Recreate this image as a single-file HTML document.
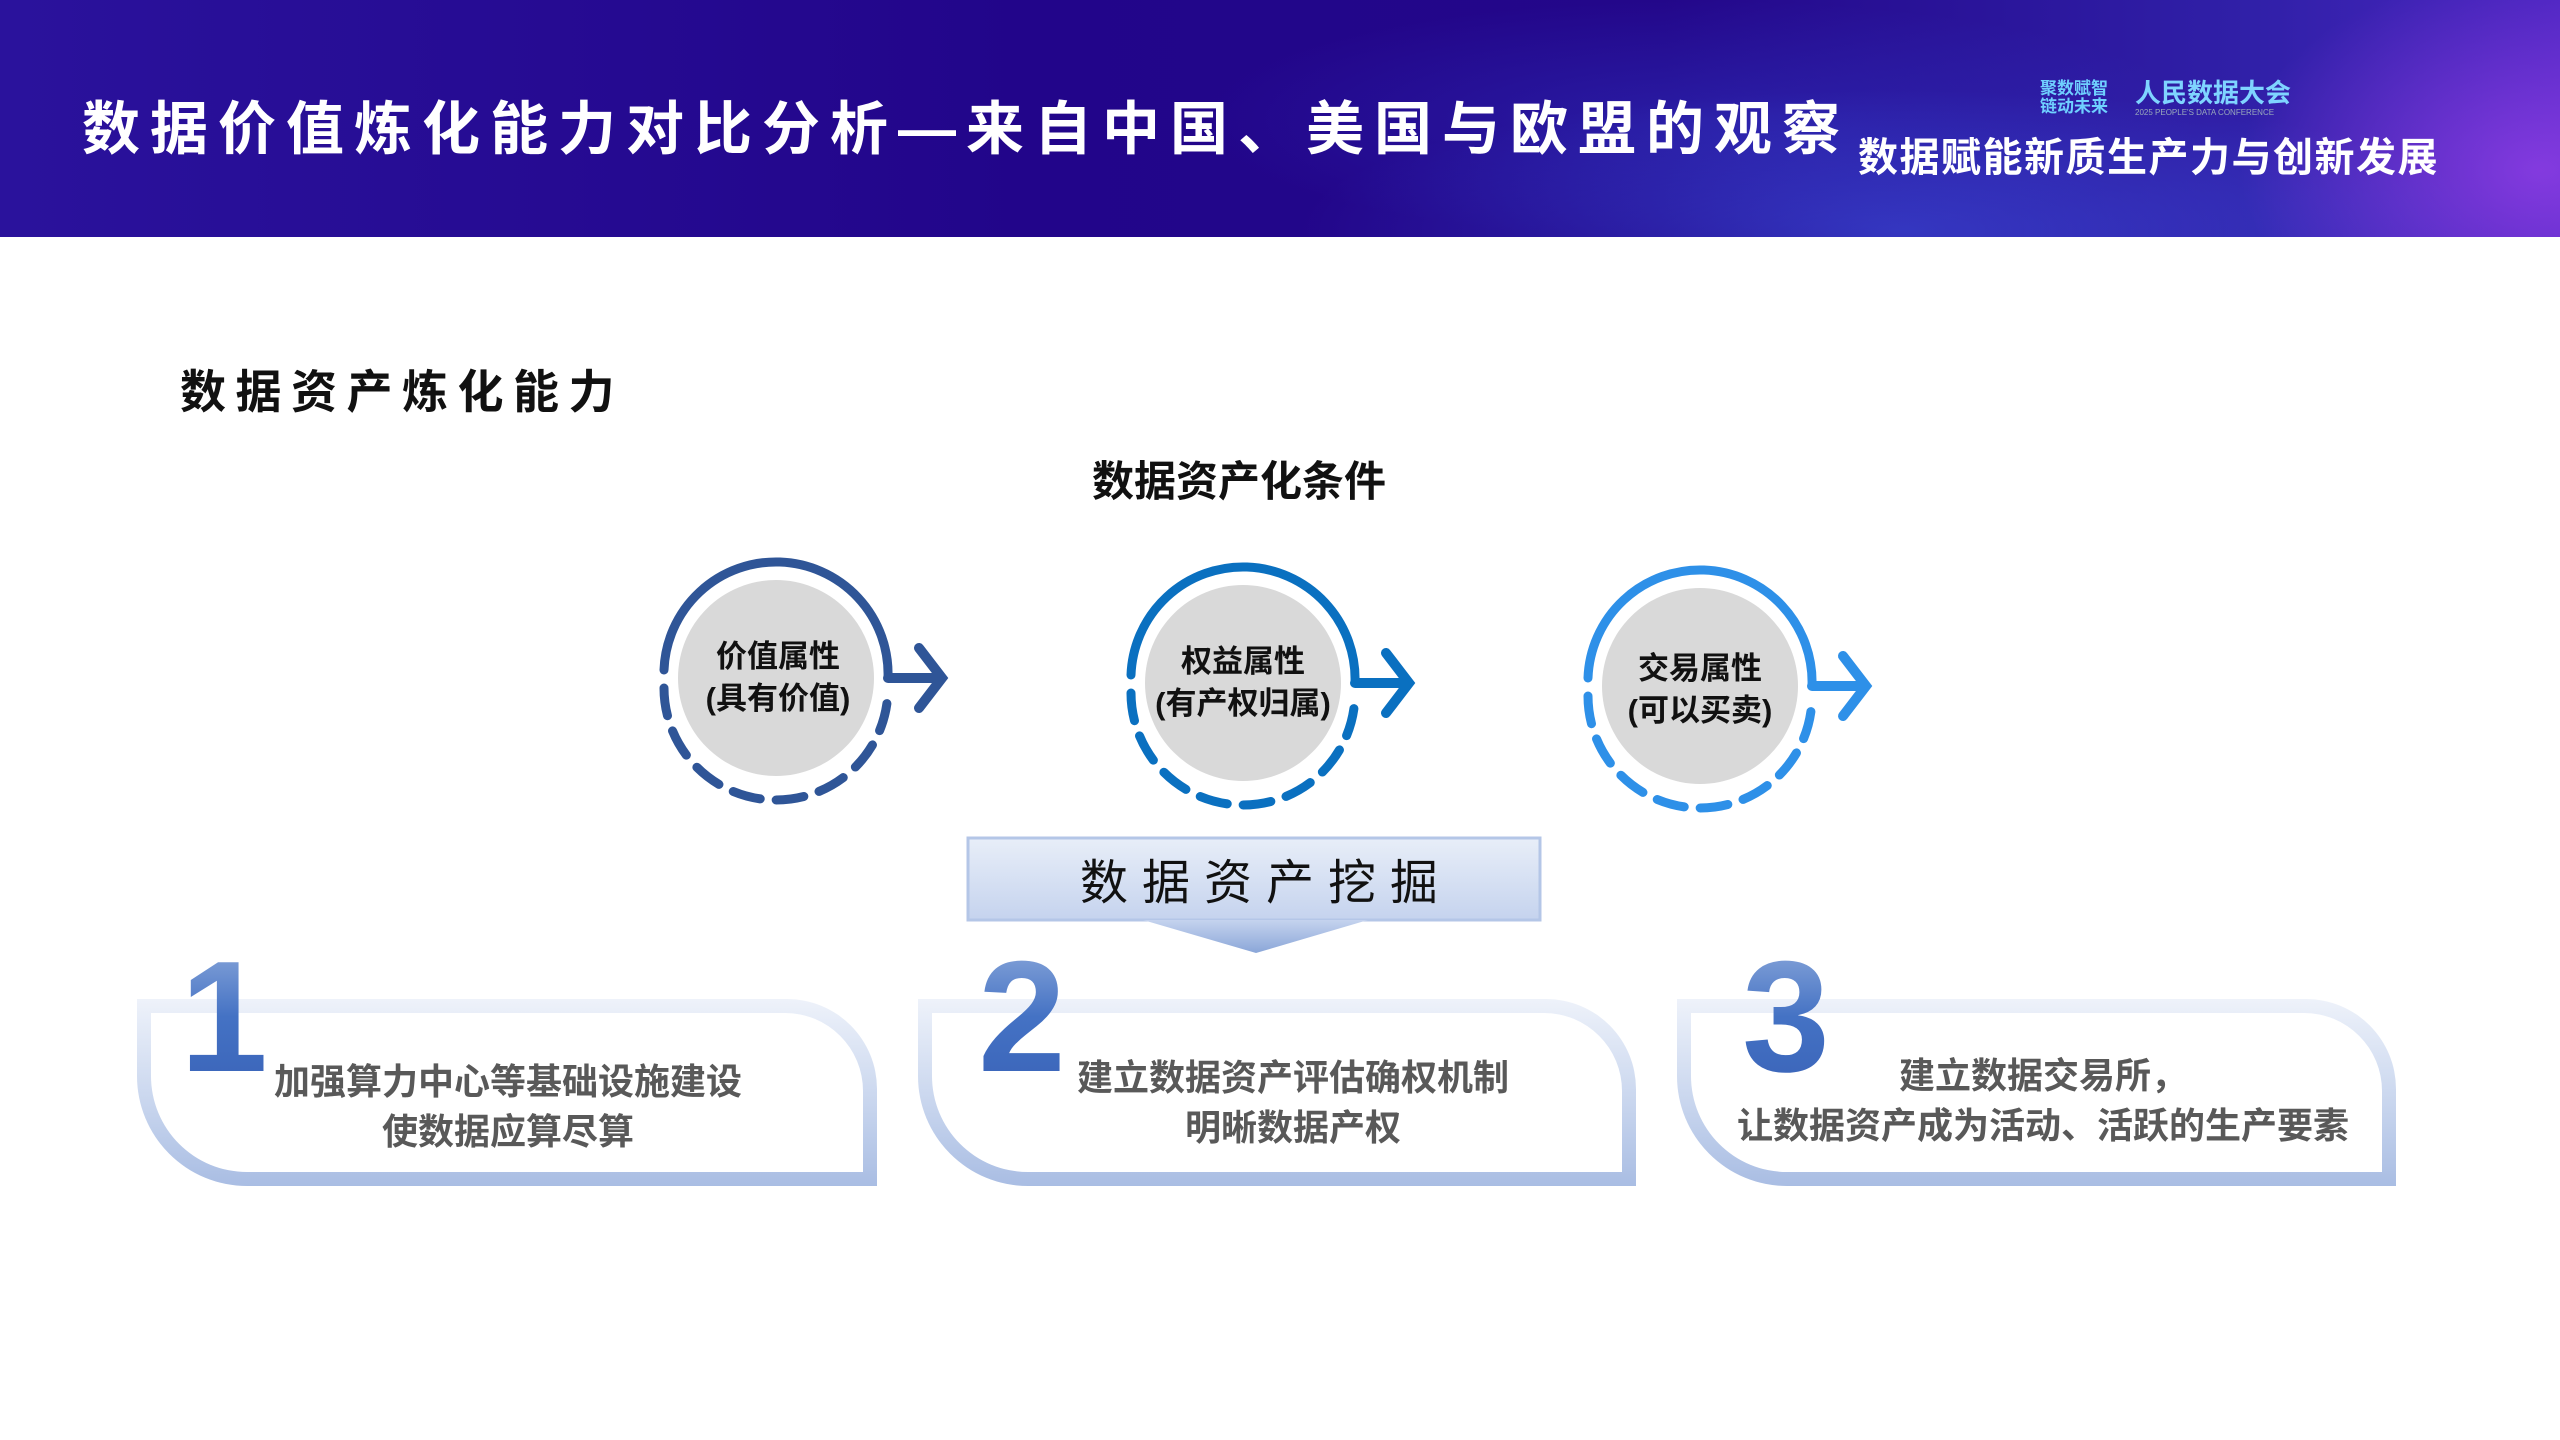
<!DOCTYPE html>
<html><head><meta charset="utf-8"><style>
*{margin:0;padding:0;box-sizing:border-box}
body{width:2560px;height:1440px;position:relative;background:#fff;overflow:hidden;font-family:"Liberation Sans","Noto Sans CJK SC",sans-serif}
.hdr{position:absolute;left:0;top:0;width:2560px;height:237px;
background:
radial-gradient(ellipse 300px 200px at 2540px 170px,rgba(190,80,255,.5),transparent),
radial-gradient(ellipse 600px 140px at 1900px 230px,rgba(70,110,255,.4),transparent),
radial-gradient(ellipse 500px 120px at 1700px 120px,rgba(60,90,240,.25),transparent),
linear-gradient(90deg,#2a129c 0%,#22058a 40%,#23078a 65%,#3020a8 88%,#4a25c0 100%)}
.t{position:absolute;color:#fff;font-weight:bold;white-space:nowrap}
.ab{position:absolute;white-space:nowrap}
.card{position:absolute;height:187px;border-radius:0 90px 0 110px;padding:14px;
background:linear-gradient(180deg,#eef2fa 0%,#c9d6ee 55%,#a9bde3 100%)}
.card>div{width:100%;height:100%;background:#fff;border-radius:0 78px 0 96px}
.num{position:absolute;font-size:158px;font-weight:bold;line-height:1;color:#4470c4;
background:linear-gradient(180deg,#8eaadb,#4472c4 50%,#3a63b8);-webkit-background-clip:text;background-clip:text;-webkit-text-fill-color:transparent}
.ct{position:absolute;color:#595959;font-weight:bold;font-size:36px;text-align:center;line-height:50px;white-space:nowrap}
</style></head><body>
<div class="hdr"></div>
<div class="t" style="left:82px;top:95px;font-size:58px;letter-spacing:10px;line-height:70px">数据价值炼化能力对比分析—来自中国、美国与欧盟的观察</div>
<div class="t" style="left:1858px;top:133px;font-size:40px;line-height:50px;letter-spacing:1.5px">数据赋能新质生产力与创新发展</div>
<div class="t" style="left:2040px;top:80px;font-size:17px;color:#6fd0ff;line-height:18px">聚数赋智<br>链动未来</div>
<div class="t" style="left:2135px;top:78px;font-size:26px;color:#7fd4ff;line-height:30px">人民数据大会</div>
<div class="t" style="left:2135px;top:108px;font-size:8px;color:#9ab;font-weight:normal">2025 PEOPLE'S DATA CONFERENCE</div>

<div class="ab" style="left:180px;top:362px;font-size:46px;font-weight:bold;letter-spacing:9.5px;color:#111;line-height:60px">数据资产炼化能力</div>
<div class="ab" style="left:1092px;top:455px;font-size:42px;font-weight:bold;color:#111;line-height:54px">数据资产化条件</div>

<svg style="position:absolute;left:0;top:0" width="2560" height="1440">
<g fill="none" stroke-width="9" stroke-linecap="round">
 <g stroke="#2f5597" transform="translate(776,678)">
  <circle r="98" fill="#d9d9d9" stroke="none"/>
  <path d="M-112,-8 A112,112 0 0 1 112,0"/>
  <path d="M-112,10 A112,112 0 0 0 112,10" stroke-dasharray="28 16"/>
  <path d="M112,0 H160 M143,-30 L166,0 L143,30" stroke-width="10"/>
 </g>
 <g stroke="#0a70c0" transform="translate(1243,683)">
  <circle r="98" fill="#d9d9d9" stroke="none"/>
  <path d="M-112,-8 A112,112 0 0 1 112,0"/>
  <path d="M-112,10 A112,112 0 0 0 112,10" stroke-dasharray="28 16"/>
  <path d="M112,0 H160 M143,-30 L166,0 L143,30" stroke-width="10"/>
 </g>
 <g stroke="#2e90e8" transform="translate(1700,686)">
  <circle r="98" fill="#d9d9d9" stroke="none"/>
  <path d="M-112,-8 A112,112 0 0 1 112,0"/>
  <path d="M-112,10 A112,112 0 0 0 112,10" stroke-dasharray="28 16"/>
  <path d="M112,0 H160 M143,-30 L166,0 L143,30" stroke-width="10"/>
 </g>
</g>
<defs><linearGradient id="bx" x1="0" y1="0" x2="0" y2="1"><stop offset="0" stop-color="#e8eef8"/><stop offset="1" stop-color="#c5d3ee"/></linearGradient>
<linearGradient id="tr" x1="0" y1="0" x2="0" y2="1"><stop offset="0" stop-color="#c5d3ee"/><stop offset="1" stop-color="#8aa6d8"/></linearGradient></defs>
<rect x="968" y="838" width="572" height="82" fill="url(#bx)" stroke="#b4c6e7" stroke-width="3"/>
<polygon points="1143,920 1368,920 1256,953" fill="url(#tr)"/>
</svg>

<div class="ab" style="left:678px;top:636px;width:200px;text-align:center;font-size:31px;font-weight:bold;line-height:42px;color:#111">价值属性<br>(具有价值)</div>
<div class="ab" style="left:1143px;top:641px;width:200px;text-align:center;font-size:31px;font-weight:bold;line-height:42px;color:#111">权益属性<br>(有产权归属)</div>
<div class="ab" style="left:1600px;top:648px;width:200px;text-align:center;font-size:31px;font-weight:bold;line-height:42px;color:#111">交易属性<br>(可以买卖)</div>

<div class="ab" style="left:980px;top:854px;width:572px;text-align:center;font-size:48px;letter-spacing:14px;color:#111;line-height:60px">数据资产挖掘</div>

<div class="card" style="left:137px;top:999px;width:740px"><div></div></div>
<div class="card" style="left:918px;top:999px;width:718px"><div></div></div>
<div class="card" style="left:1677px;top:999px;width:719px"><div></div></div>

<div class="num" style="left:180px;top:938px">1</div>
<div class="num" style="left:978px;top:938px">2</div>
<div class="num" style="left:1742px;top:938px">3</div>

<div class="ct" style="left:508px;top:1057px;transform:translateX(-50%)">加强算力中心等基础设施建设<br>使数据应算尽算</div>
<div class="ct" style="left:1293px;top:1053px;transform:translateX(-50%)">建立数据资产评估确权机制<br>明晰数据产权</div>
<div class="ct" style="left:2043px;top:1051px;transform:translateX(-50%)">建立数据交易所，<br>让数据资产成为活动、活跃的生产要素</div>
</body></html>
